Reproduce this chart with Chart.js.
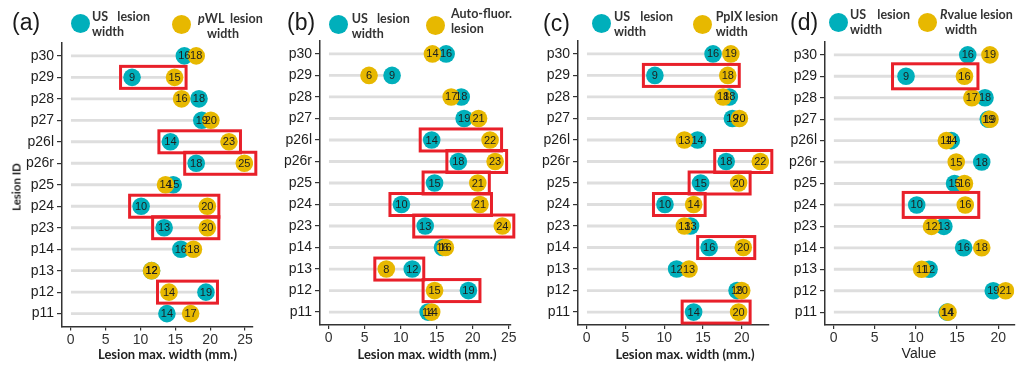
<!DOCTYPE html>
<html>
<head>
<meta charset="utf-8">
<script src="https://cdn.jsdelivr.net/npm/chart.js@4.4.1/dist/chart.umd.min.js"></script>
<style>
  html, body { margin: 0; padding: 0; background: #fff; }
  #wrap { position: relative; width: 1023px; height: 367px; overflow: hidden;
          font-family: "Liberation Sans", Arial, sans-serif; }
  #wrap canvas { position: absolute; left: 0; top: 0; }
  .txt { position: absolute; white-space: nowrap; color: #222; }
  .tag { font-size: 23px; line-height: 23px; color: #1a1a1a; }
  .leg { font-family: Lato, "Open Sans", sans-serif; font-weight: 700; font-size: 12.5px;
         line-height: 15px; color: #333; }
  .leg .just { display: flex; justify-content: space-between; }
  .dot { position: absolute; width: 19px; height: 19px; border-radius: 50%; }
  .xtitle { font-family: Lato, "Open Sans", sans-serif; font-weight: 700; font-size: 13px;
            transform: translate(-50%, -50%); color: #222; }
  .xtitle.plain { font-family: "Liberation Sans", Arial, sans-serif; font-weight: 400; font-size: 14px; }
  .ytitle { font-family: Lato, "Open Sans", sans-serif; font-weight: 700; font-size: 11.5px;
            transform: translate(-50%, -50%) rotate(-90deg); color: #222; }
</style>
</head>
<body>
<div id="wrap">
  <canvas id="cA" width="1023" height="367"></canvas>
  <canvas id="cB" width="1023" height="367"></canvas>
  <canvas id="cC" width="1023" height="367"></canvas>
  <canvas id="cD" width="1023" height="367"></canvas>

  <!-- panel tags -->
  <div class="txt tag" style="left:12px;top:11px;">(a)</div>
  <div class="txt tag" style="left:287px;top:11px;">(b)</div>
  <div class="txt tag" style="left:543px;top:12px;">(c)</div>
  <div class="txt tag" style="left:790px;top:11px;">(d)</div>

  <!-- legends -->
  <div class="dot" style="left:70.5px;top:13.5px;background:#00AFBB;"></div>
  <div class="txt leg" style="left:92px;top:8.5px;"><div class="just" style="width:58px;"><span>US</span><span>lesion</span></div><div>width</div></div>
  <div class="dot" style="left:171.5px;top:14.5px;background:#E7B800;"></div>
  <div class="txt leg" style="left:198px;top:10.5px;"><div><i>p</i>WL&nbsp; lesion</div><div style="padding-left:9px;">width</div></div>

  <div class="dot" style="left:328.8px;top:14.8px;background:#00AFBB;"></div>
  <div class="txt leg" style="left:351.7px;top:10.5px;"><div class="just" style="width:58px;"><span>US</span><span>lesion</span></div><div>width</div></div>
  <div class="dot" style="left:426.2px;top:15.5px;background:#E7B800;"></div>
  <div class="txt leg" style="left:451px;top:5.5px;"><div>Auto-fluor.</div><div>lesion</div></div>

  <div class="dot" style="left:592.2px;top:13.8px;background:#00AFBB;"></div>
  <div class="txt leg" style="left:614px;top:9px;"><div class="just" style="width:59px;"><span>US</span><span>lesion</span></div><div>width</div></div>
  <div class="dot" style="left:693.2px;top:14.5px;background:#E7B800;"></div>
  <div class="txt leg" style="left:715.7px;top:9px;"><div>PpIX lesion</div><div>width</div></div>

  <div class="dot" style="left:828.8px;top:12.8px;background:#00AFBB;"></div>
  <div class="txt leg" style="left:850px;top:7px;"><div class="just" style="width:60px;"><span>US</span><span>lesion</span></div><div>width</div></div>
  <div class="dot" style="left:917.8px;top:12.8px;background:#E7B800;"></div>
  <div class="txt leg" style="left:940px;top:7px;"><div><i>R</i>value lesion</div><div style="padding-left:5px;">width</div></div>

  <!-- axis titles -->
  <div class="txt ytitle" style="left:16px;top:187px;">Lesion ID</div>
  <div class="txt xtitle" style="left:167.5px;top:354px;">Lesion max. width (mm.)</div>
  <div class="txt xtitle" style="left:427px;top:354px;">Lesion max. width (mm.)</div>
  <div class="txt xtitle" style="left:685px;top:354px;">Lesion max. width (mm.)</div>
  <div class="txt xtitle plain" style="left:919px;top:353px;">Value</div>
</div>

<script>
// Lesion IDs, top row first
const lesionIds = ['p30', 'p29', 'p28', 'p27', 'p26l', 'p26r', 'p25', 'p24', 'p23', 'p14', 'p13', 'p12', 'p11'];

// Width axis tick values
const widthTicks = [0, 5, 10, 15, 20, 25];

// Maximum lesion width (mm) per lesion for each modality
const usWidth        = [16.3, 8.8, 18.4, 18.8, 14.3, 18.0, 14.7, 10.1, 13.4, 15.8, 11.6, 19.4, 13.8];
const pwlWidth       = [18.0, 14.9, 15.9, 20.1, 22.7, 24.9, 13.6, 19.6, 19.6, 17.6, 11.6, 14.1, 17.2];
const autoFluorWidth = [14.4, 5.6, 17.0, 20.8, 22.4, 23.1, 20.7, 21.0, 24.1, 16.2, 8.0, 14.7, 14.3];
const ppixWidth      = [18.6, 18.2, 17.6, 19.7, 12.6, 22.4, 19.6, 13.8, 12.6, 20.2, 13.2, 20.0, 19.6];
const rvalueWidth    = [19.0, 15.9, 16.8, 19.0, 13.7, 14.9, 15.9, 16.0, 11.9, 18.0, 10.7, 20.9, 13.9];

// Lesions flagged with a box in each panel
const boxedPwl       = ['p29', 'p26l', 'p26r', 'p24', 'p23', 'p12'];
const boxedAutoFluor = ['p26l', 'p26r', 'p25', 'p24', 'p23', 'p13', 'p12'];
const boxedPpix      = ['p29', 'p26r', 'p25', 'p24', 'p14', 'p11'];
const boxedRvalue    = ['p29', 'p24'];

const TEAL = '#00AFBB';
const GOLD = '#E7B800';
const AXIS = '#333333';

// Value labels printed inside each dot, drawn after all dots
const dotLabels = {
  id: 'dotLabels',
  afterDatasetsDraw(chart) {
    const ctx = chart.ctx;
    ctx.save();
    ctx.font = '11px "Liberation Sans", Arial, sans-serif';
    ctx.fillStyle = '#1e1e1e';
    ctx.textAlign = 'center';
    ctx.textBaseline = 'middle';
    chart.data.datasets.forEach((ds, di) => {
      if (ds.type !== 'scatter') return;
      chart.getDatasetMeta(di).data.forEach((pt, i) => {
        ctx.fillText(String(Math.round(ds.data[i].x)), pt.x, pt.y + 0.5);
      });
    });
    ctx.restore();
  }
};

// Red frames around flagged lesion pairs
const pairBoxes = {
  id: 'pairBoxes',
  afterDraw(chart, args, opts) {
    const ctx = chart.ctx;
    const xs = chart.scales.x, ys = chart.scales.y;
    const a = chart.data.datasets[1].data, b = chart.data.datasets[2].data;
    ctx.save();
    ctx.strokeStyle = '#E8202A';
    ctx.lineWidth = 3;
    (opts.rows || []).forEach(id => {
      const i = lesionIds.indexOf(id);
      const x0 = xs.getPixelForValue(Math.min(a[i].x, b[i].x)) - opts.padX;
      const x1 = xs.getPixelForValue(Math.max(a[i].x, b[i].x)) + opts.padX;
      const y = ys.getPixelForValue(i);
      ctx.strokeRect(x0, y - opts.padY, x1 - x0, 2 * opts.padY);
    });
    ctx.restore();
  }
};

function makePanel(canvasId, other, boxed, area, pad) {
  const hi = Math.max(...usWidth, ...other);
  const yAxisW = 40, xAxisH = 30;
  const toPoints = arr => arr.map((v, i) => ({ x: v, y: i }));
  const stems = lesionIds.map((id, i) => ({ x: Math.max(usWidth[i], other[i]), y: i }));

  return new Chart(document.getElementById(canvasId), {
    type: 'scatter',
    data: {
      datasets: [
        { type: 'bar', indexAxis: 'y', data: stems, backgroundColor: '#DEDEDE',
          barThickness: 2.2, grouped: false, order: 3 },
        { type: 'scatter', label: 'US', data: toPoints(usWidth), backgroundColor: TEAL,
          pointRadius: 8.8, pointHoverRadius: 8.8, borderWidth: 0, order: 2 },
        { type: 'scatter', label: 'other', data: toPoints(other), backgroundColor: GOLD,
          pointRadius: 8.8, pointHoverRadius: 8.8, borderWidth: 0, order: 1 }
      ]
    },
    options: {
      responsive: false,
      animation: false,
      events: [],
      devicePixelRatio: 1,
      layout: {
        padding: {
          left: area.left - yAxisW,
          right: 1023 - area.right,
          top: area.top,
          bottom: 367 - area.bottom - xAxisH
        }
      },
      plugins: {
        legend: { display: false },
        tooltip: { enabled: false },
        pairBoxes: { rows: boxed, padX: pad.x, padY: pad.y }
      },
      scales: {
        x: {
          type: 'linear',
          bounds: 'data',
          offset: false,
          min: -0.05 * hi,
          max: 1.05 * hi,
          afterBuildTicks(s) {
            s.ticks = widthTicks.filter(v => v <= s.max).map(v => ({ value: v }));
          },
          afterFit(s) { s.height = xAxisH; },
          border: { display: true, color: AXIS, width: 1.5 },
          grid: { display: true, offset: false, drawOnChartArea: false, drawTicks: true, tickLength: 4,
                  color: AXIS, lineWidth: 1.2 },
          ticks: { padding: 1, color: '#333', maxRotation: 0, autoSkip: false,
                   font: { family: '"Liberation Sans", Arial, sans-serif', size: 14 } }
        },
        y: {
          type: 'linear',
          bounds: 'data',
          offset: false,
          reverse: true,
          min: -0.6,
          max: lesionIds.length - 1 + 0.6,
          afterBuildTicks(s) {
            s.ticks = lesionIds.map((id, i) => ({ value: i }));
          },
          afterFit(s) { s.width = yAxisW; },
          border: { display: true, color: AXIS, width: 1.5 },
          grid: { display: true, offset: false, drawOnChartArea: false, drawTicks: true, tickLength: 5,
                  color: AXIS, lineWidth: 1.2 },
          ticks: { padding: 3, color: '#1e1e1e', autoSkip: false,
                   font: { family: '"Liberation Sans", Arial, sans-serif', size: 14 },
                   callback: v => lesionIds[v] }
        }
      }
    },
    plugins: [dotLabels, pairBoxes]
  });
}

makePanel('cA', pwlWidth,       boxedPwl,       { left: 62,  right: 253,  top: 43, bottom: 326.5 }, { x: 11.5, y: 11 });
makePanel('cB', autoFluorWidth, boxedAutoFluor, { left: 320, right: 511,  top: 41, bottom: 325 },   { x: 11.5, y: 11 });
makePanel('cC', ppixWidth,      boxedPpix,      { left: 578, right: 769,  top: 41, bottom: 325 },   { x: 11.5, y: 11 });
makePanel('cD', rvalueWidth,    boxedRvalue,    { left: 825, right: 1016, top: 42, bottom: 325 },   { x: 13.5, y: 12.5 });
</script>
</body>
</html>
